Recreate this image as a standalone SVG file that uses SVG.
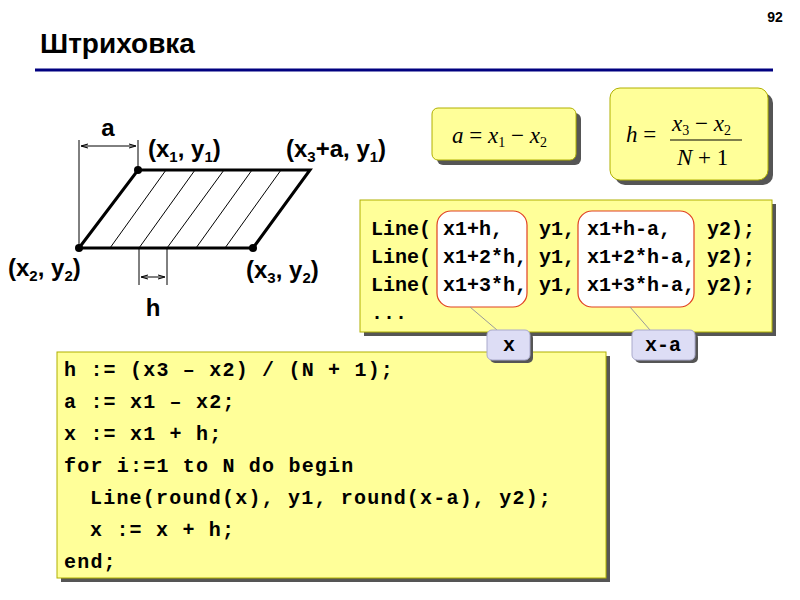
<svg xmlns="http://www.w3.org/2000/svg" width="800" height="600" viewBox="0 0 800 600">
<style>
.lbl{font-family:"Liberation Sans",Arial,sans-serif;font-weight:bold;font-size:24px}
.sub{font-size:15px}
.code{font-family:"Liberation Mono","Courier New",monospace;font-weight:bold;font-size:20px;letter-spacing:1.2px}
.code2{font-family:"Liberation Mono","Courier New",monospace;font-weight:bold;font-size:20px;letter-spacing:0px}
.box{fill:#FFFF99;stroke:#B0B000;stroke-width:1}
.shd{fill:#555}
.m{font-family:"Liberation Serif","Times New Roman",serif;font-size:23px}
.it{font-style:italic}
</style>
<defs>
<marker id="ah" viewBox="0 0 10 10" refX="10" refY="5" markerWidth="7" markerHeight="7" orient="auto-start-reverse"><path d="M0,2 L10,5 L0,8" fill="none" stroke="#000" stroke-width="1.5"/></marker>
</defs>
<rect width="800" height="600" fill="#fff"/>
<text x="775" y="22" font-family="Liberation Sans,Arial,sans-serif" font-weight="bold" font-size="14" text-anchor="middle">92</text>
<text x="40" y="53" font-family="Liberation Sans,Arial,sans-serif" font-weight="bold" font-size="28">Штриховка</text>
<line x1="35" y1="70" x2="773" y2="70" stroke="#000080" stroke-width="3"/>

<g id="figure">
<g stroke="#000" stroke-width="1">
<line x1="79" y1="140" x2="79" y2="248"/><line x1="138" y1="140" x2="138" y2="170"/>
<line x1="81" y1="146" x2="136" y2="146" marker-start="url(#ah)" marker-end="url(#ah)"/>
<line x1="139" y1="248" x2="139" y2="285"/><line x1="167" y1="248" x2="167" y2="285"/>
<line x1="141" y1="277" x2="165" y2="277" marker-start="url(#ah)" marker-end="url(#ah)"/>
<line x1="166" y1="170" x2="110" y2="248"/><line x1="195" y1="170" x2="139" y2="248"/>
<line x1="224" y1="170" x2="167" y2="248"/><line x1="252" y1="170" x2="196" y2="248"/>
<line x1="281" y1="170" x2="225" y2="248"/>
</g>
<polygon points="79,248 138,170 310,170 253,248" fill="none" stroke="#000" stroke-width="3"/>
<circle cx="138" cy="170" r="4"/><circle cx="79" cy="248" r="4"/><circle cx="253" cy="248" r="4"/>
<text class="lbl" x="108" y="136" text-anchor="middle">a</text>
<text class="lbl" x="148" y="157">(x<tspan class="sub" dy="5">1</tspan><tspan dy="-5">, y</tspan><tspan class="sub" dy="5">1</tspan><tspan dy="-5">)</tspan></text>
<text class="lbl" x="286" y="157">(x<tspan class="sub" dy="5">3</tspan><tspan dy="-5">+a, y</tspan><tspan class="sub" dy="5">1</tspan><tspan dy="-5">)</tspan></text>
<text class="lbl" x="8" y="276">(x<tspan class="sub" dy="5">2</tspan><tspan dy="-5">, y</tspan><tspan class="sub" dy="5">2</tspan><tspan dy="-5">)</tspan></text>
<text class="lbl" x="246" y="278">(x<tspan class="sub" dy="5">3</tspan><tspan dy="-5">, y</tspan><tspan class="sub" dy="5">2</tspan><tspan dy="-5">)</tspan></text>
<text class="lbl" x="153" y="316" text-anchor="middle">h</text>
</g>

<g id="formula-a">
<rect class="shd" x="437" y="113" width="144" height="52" rx="6"/>
<rect class="box" x="432" y="108" width="144" height="52" rx="6"/>
<text class="m" x="452" y="143"><tspan class="it">a</tspan> = <tspan class="it">x</tspan><tspan font-size="14" dy="4">1</tspan><tspan dy="-4"> − </tspan><tspan class="it">x</tspan><tspan font-size="14" dy="4">2</tspan></text>
</g>

<g id="formula-h">
<rect class="shd" x="615" y="93" width="158" height="92" rx="10"/>
<rect class="box" x="610" y="88" width="158" height="92" rx="10"/>
<text class="m" x="626" y="142"><tspan class="it">h</tspan> =</text>
<text class="m" x="672" y="131"><tspan class="it">x</tspan><tspan font-size="14" dy="4">3</tspan><tspan dy="-4"> − </tspan><tspan class="it">x</tspan><tspan font-size="14" dy="4">2</tspan></text>
<line x1="670" y1="140" x2="742" y2="140" stroke="#000" stroke-width="1.2"/>
<text class="m" x="677" y="165"><tspan class="it">N</tspan> + 1</text>
</g>

<g id="code-main">
<rect class="shd" x="61" y="356" width="549" height="226"/>
<rect class="box" x="57" y="352" width="549" height="226"/>
<text class="code" x="64" y="376">h := (x3 – x2) / (N + 1);</text>
<text class="code" x="64" y="408">a := x1 – x2;</text>
<text class="code" x="64" y="440">x := x1 + h;</text>
<text class="code" x="64" y="472">for i:=1 to N do begin</text>
<text class="code" x="90" y="504">Line(round(x), y1, round(x-a), y2);</text>
<text class="code" x="90" y="536">x := x + h;</text>
<text class="code" x="64" y="568">end;</text>
</g>

<g id="code-lines">
<rect class="shd" x="364" y="204" width="412" height="132"/>
<rect class="box" x="360" y="200" width="412" height="132"/>
<rect x="437" y="211" width="90" height="96" rx="14" fill="#fff" stroke="#E04020" stroke-width="1.2"/>
<rect x="578" y="211" width="116" height="96" rx="14" fill="#fff" stroke="#E04020" stroke-width="1.2"/>
<text class="code2" x="371" y="235" xml:space="preserve">Line( x1+h,   y1, x1+h-a,   y2);</text>
<text class="code2" x="371" y="263">Line( x1+2*h, y1, x1+2*h-a, y2);</text>
<text class="code2" x="371" y="291">Line( x1+3*h, y1, x1+3*h-a, y2);</text>
<text class="code2" x="371" y="319">...</text>
</g>

<g id="connectors" stroke="#999" stroke-width="1">
<line x1="470" y1="307" x2="497" y2="330"/>
<line x1="630" y1="307" x2="650" y2="330"/>
</g>

<g id="callout-x">
<rect class="shd" x="490" y="333" width="43" height="30" rx="5"/>
<rect x="487" y="330" width="43" height="30" rx="5" fill="#DDDDF5" stroke="#AAAACC"/>
<text class="code2" x="509" y="351" text-anchor="middle">x</text>
</g>
<g id="callout-xa">
<rect class="shd" x="635" y="333" width="63" height="30" rx="5"/>
<rect x="632" y="330" width="63" height="30" rx="5" fill="#DDDDF5" stroke="#AAAACC"/>
<text class="code2" x="663" y="351" text-anchor="middle">x-a</text>
</g>
</svg>
